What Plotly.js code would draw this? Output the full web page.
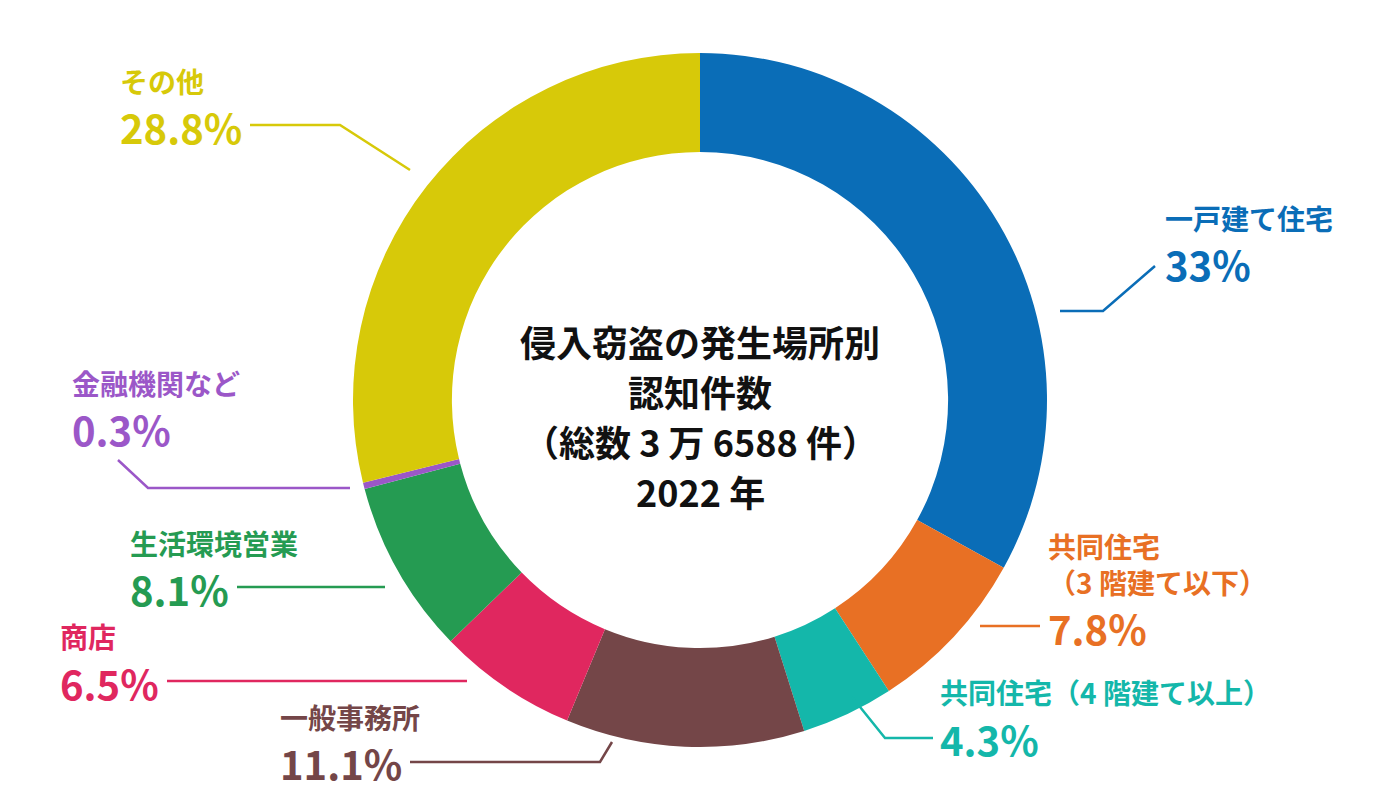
<!DOCTYPE html>
<html><head><meta charset="utf-8">
<script src="https://cdn.plot.ly/plotly-3.0.1.min.js"></script>
<style>html,body{margin:0;padding:0;background:#fff;}#chart{width:1400px;height:800px;}</style>
</head><body><div id="chart"></div>
<script>
const categories = ["一戸建て住宅","共同住宅（3 階建て以下）","共同住宅（4 階建て以上）","一般事務所","商店","生活環境営業","金融機関など","その他"];
const labelNames = ["一戸建て住宅","共同住宅<br>（3 階建て以下）","共同住宅（4 階建て以上）","一般事務所","商店","生活環境営業","金融機関など","その他"];
const shares = [33, 7.8, 4.3, 11.1, 6.5, 8.1, 0.3, 28.8];
const shareLabels = ["33%","7.8%","4.3%","11.1%","6.5%","8.1%","0.3%","28.8%"];
const colors = ["#0A6DB7","#E87024","#14B7AA","#744648","#E0275F","#259B52","#9B57C8","#D7C909"];
const titleLines = ["侵入窃盗の発生場所別","認知件数","（総数 3 万 6588 件）","2022 年"];

const W = 1400, H = 800;
const FONT = '"Noto Sans CJK JP", "Noto Sans", sans-serif';
const NAME_SIZE = 28, PCT_SIZE = 40, TITLE_SIZE = 36;
// label layout (pixels): x of text, centre y of the name block, centre y of percentage, leader line points
const layoutInfo = [
  {x:1163, nameY:218, pctY:264, line:[[1060,311],[1103,311],[1155,266]]},
  {x:1046, nameY:564, pctY:628, line:[[980,626],[1040,626]]},
  {x:938, nameY:692, pctY:739, line:[[852,697],[885,738],[933,738]]},
  {x:278, nameY:717, pctY:763, line:[[410,762],[600,762],[612,742]]},
  {x:58, nameY:636, pctY:683, line:[[167,681],[467,681]]},
  {x:128, nameY:543, pctY:589, line:[[237,587],[385,587]]},
  {x:70, nameY:383, pctY:429, line:[[118,460],[148,488],[350,488]]},
  {x:118, nameY:81, pctY:127, line:[[250,125],[340,125],[410,170]]}
];
const titleY = [341, 391, 441, 491];
const px = x => x / W, py = y => 1 - y / H;

const annotations = [];
const shapes = [];
categories.forEach((c, i) => {
  const L = layoutInfo[i];
  annotations.push({xref:'paper', yref:'paper', x:px(L.x), y:py(L.nameY), xanchor:'left', yanchor:'middle', align:'left',
    text:'<b>' + labelNames[i].split('<br>').join('</b><br><b>') + '</b>', showarrow:false,
    font:{family:FONT, size:NAME_SIZE, color:colors[i]}});
  annotations.push({xref:'paper', yref:'paper', x:px(L.x), y:py(L.pctY), xanchor:'left', yanchor:'middle', align:'left',
    text:'<b>' + shareLabels[i] + '</b>', showarrow:false, font:{family:FONT, size:PCT_SIZE, color:colors[i]}});
  const path = L.line.map((p, k) => (k ? 'L' : 'M') + px(p[0]) + ',' + py(p[1])).join(' ');
  shapes.push({type:'path', xref:'paper', yref:'paper', path:path, line:{color:colors[i], width:2.5}});
});
titleLines.forEach((t, i) => {
  annotations.push({xref:'paper', yref:'paper', x:0.5, y:py(titleY[i]), xanchor:'center', yanchor:'middle',
    text:'<b>' + t + '</b>', showarrow:false, font:{family:FONT, size:TITLE_SIZE, color:'#111'}});
});

const R = 347, cx = 700, cy = 400;
const data = [{
  type:'pie', labels:categories, values:shares, sort:false, direction:'clockwise', rotation:0,
  hole:0.715, marker:{colors:colors, line:{width:0}}, textinfo:'none', hoverinfo:'label+percent',
  domain:{x:[(cx-R)/W,(cx+R)/W], y:[1-(cy+R)/H, 1-(cy-R)/H]}, showlegend:false
}];
const layout = {width:W, height:H, margin:{l:0,r:0,t:0,b:0}, paper_bgcolor:'#fff', showlegend:false,
  annotations:annotations, shapes:shapes, font:{family:FONT}};
Plotly.newPlot('chart', data, layout, {displayModeBar:false, staticPlot:true});
</script></body></html>
